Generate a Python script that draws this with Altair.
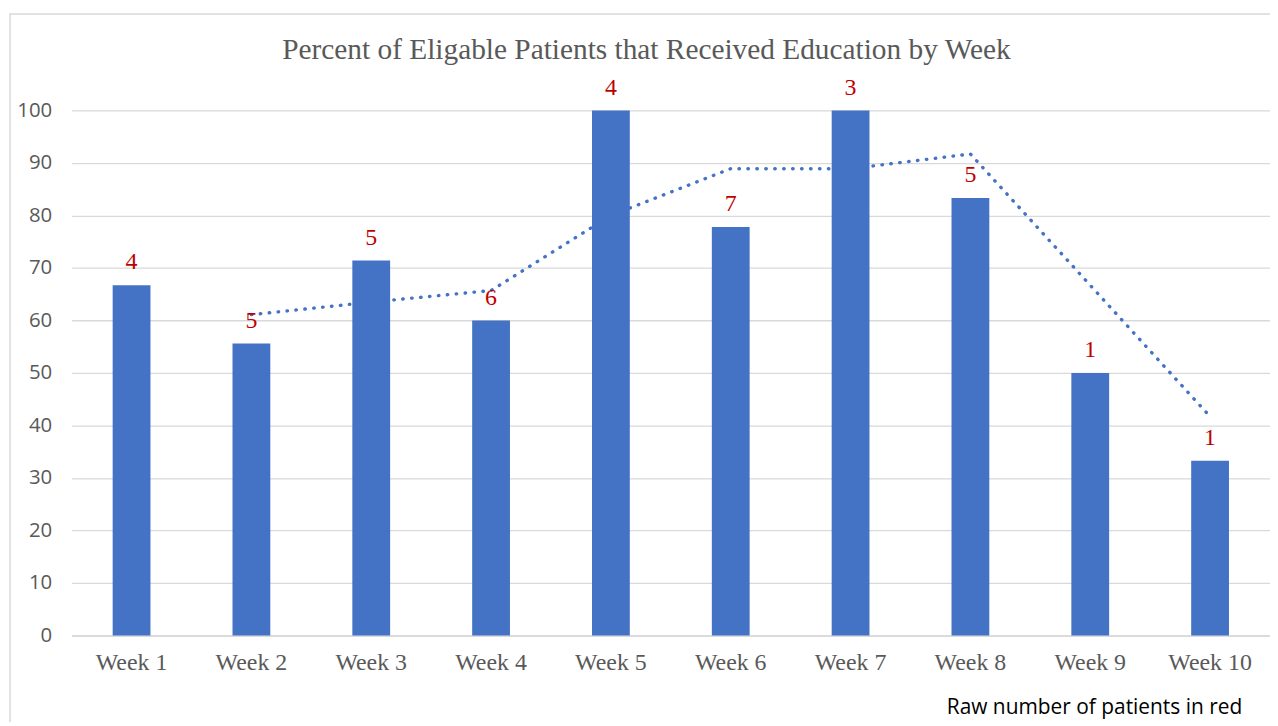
import altair as alt
import pandas as pd

weeks = ["Week 1", "Week 2", "Week 3", "Week 4", "Week 5",
         "Week 6", "Week 7", "Week 8", "Week 9", "Week 10"]
percent = [66.7, 55.6, 71.4, 60.0, 100.0, 77.8, 100.0, 83.3, 50.0, 33.3]
raw_counts = [4, 5, 5, 6, 4, 7, 3, 5, 1, 1]
trend_weeks = ["Week 2", "Week 3", "Week 4", "Week 5", "Week 6",
               "Week 7", "Week 8", "Week 9", "Week 10"]
trend_values = [61.1, 63.5, 65.7, 80.0, 88.9, 88.9, 91.7, 66.7, 41.7]
title_text = "Percent of Eligable Patients that Received Education by Week"
note_text = "Raw number of patients in red"

bars_df = pd.DataFrame({"week": weeks, "pct": percent, "raw": raw_counts})
trend_df = pd.DataFrame({"week": trend_weeks, "ma": trend_values})
one = pd.DataFrame({"k": [0]})

W, H = 1205, 528
x_scale = alt.Scale(domain=weeks, paddingInner=0, paddingOuter=0)
y_scale = alt.Scale(domain=[0, 100], nice=False)

x_enc = alt.X("week:N", sort=weeks, scale=x_scale, title=None,
              axis=alt.Axis(labelAngle=0, ticks=False, domainColor="#d9d9d9",
                            domainWidth=1.5, labelFont="Liberation Serif",
                            labelFontSize=24, labelColor="#595959",
                            labelPadding=15))

bars = alt.Chart(bars_df).mark_bar(size=38, color="#4472C4").encode(
    x=x_enc,
    y=alt.Y("pct:Q", scale=y_scale, title=None,
            axis=alt.Axis(values=list(range(0, 101, 10)), grid=True,
                          gridColor="#d9d9d9", gridWidth=1.3, domain=False,
                          ticks=False, labelFont="Open Sans", labelFontSize=20.5,
                          labelColor="#595959", labelPadding=20)),
)

labels = alt.Chart(bars_df).mark_text(
    font="Liberation Serif", fontSize=24, color="#C00000", dy=-23,
    baseline="middle"
).encode(
    x=alt.X("week:N", sort=weeks, scale=x_scale),
    y=alt.Y("pct:Q", scale=y_scale),
    text="raw:N",
)

trend = alt.Chart(trend_df).mark_line(
    color="#4472C4", strokeWidth=3.4, strokeDash=[0.5, 8.5], strokeCap="round"
).encode(
    x=alt.X("week:N", sort=weeks, scale=x_scale),
    y=alt.Y("ma:Q", scale=y_scale),
)

border = alt.Chart(one).mark_rect(
    filled=False, stroke="#d9d9d9", strokeWidth=1.5
).encode(x=alt.value(-62), y=alt.value(-97), x2=alt.value(1400), y2=alt.value(900))

title = alt.Chart(one).mark_text(
    text=title_text, font="Liberation Serif", fontSize=29.5, color="#595959",
    align="center", baseline="alphabetic"
).encode(x=alt.value(578), y=alt.value(-52))

note = alt.Chart(one).mark_text(
    text=note_text, font="Open Sans", fontSize=21, color="#000000",
    align="left", baseline="alphabetic"
).encode(x=alt.value(880), y=alt.value(607))

chart = alt.layer(border, bars, trend, labels, title, note).properties(
    width=W, height=H,
    autosize=alt.AutoSizeParams(type="none"),
    padding={"left": 64, "top": 101, "right": 0, "bottom": 85},
).configure_view(stroke=None)

chart.save("out.html", embed_options={"renderer": "svg", "actions": False})
